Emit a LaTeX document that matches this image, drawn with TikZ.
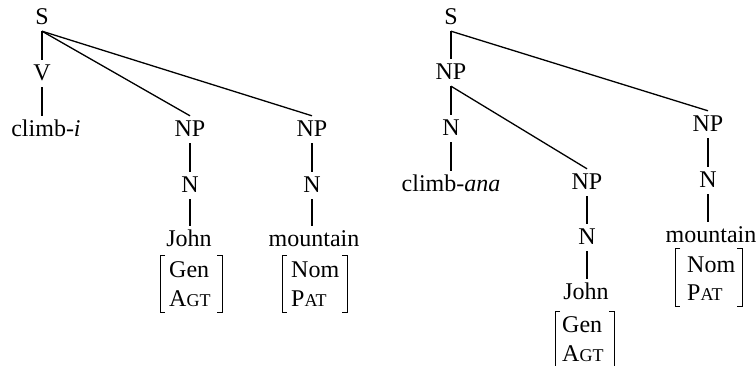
\documentclass[tikz,border=0pt]{standalone}
\usepackage{fontspec}
\setmainfont{Liberation Serif}
\newcommand\mysc[1]{{\fontsize{18}{18}\selectfont #1}}
\tikzset{
  lab/.style={font=\fontsize{24}{28}\selectfont, inner xsep=0pt, inner ysep=6pt, text height=15pt, text depth=0pt, anchor=base},
  feat/.style={font=\fontsize{24}{28}\selectfont, inner sep=0pt, anchor=base west},
  edge/.style={line width=1.3pt},
  brk/.style={line width=1pt}
}
\begin{document}
\begin{tikzpicture}[x=1pt,y=-1pt]
\useasboundingbox (0,0) rectangle (756,366);
% ---------- left tree ----------
\node[lab] (S1) at (42,25) {S};
\node[lab] (V1) at (42,81) {V};
\node[lab] (cl1) at (46,137) {climb-\textit{i}};
\node[lab] (NPa) at (190,137) {NP};
\node[lab] (Na) at (190,193) {N};
\node[lab] (Ja) at (189,247) {John};
\node[feat] (Ga) at (169,278) {Gen};
\node[feat] (Aa) at (169,307) {A\mysc{GT}};
\node[lab] (NPb) at (312,137) {NP};
\node[lab] (Nb) at (312,193) {N};
\node[lab] (Mb) at (314,247) {mountain};
\node[feat] (Ob) at (291,278) {Nom};
\node[feat] (Pb) at (291,307) {P\mysc{AT}};
\draw[edge] (S1.south) -- (V1.north);
\draw[edge] (V1.south) -- (V1.south |- cl1.north);
\draw[edge] (S1.south) -- (NPa.north);
\draw[edge] (S1.south) -- (NPb.north);
\draw[edge] (NPa.south) -- (Na.north);
\draw[edge] (Na.south) -- (Na.south |- Ja.north);
\draw[edge] (NPb.south) -- (Nb.north);
\draw[edge] (Nb.south) -- (Nb.south |- Mb.north);
\draw[brk] (165,256) -- (160,256) -- (160,313) -- (165,313);
\draw[brk] (217,256) -- (222,256) -- (222,313) -- (217,313);
\draw[brk] (287,256) -- (282,256) -- (282,313) -- (287,313);
\draw[brk] (342,256) -- (347,256) -- (347,313) -- (342,313);
% ---------- right tree ----------
\node[lab] (S2) at (451,25) {S};
\node[lab] (NPc) at (451,80) {NP};
\node[lab] (Nc) at (451,136) {N};
\node[lab] (cl2) at (451,192) {climb-\textit{ana}};
\node[lab] (NPd) at (587,190) {NP};
\node[lab] (Nd) at (587,245) {N};
\node[lab] (Jd) at (586,300) {John};
\node[feat] (Gd) at (562,333) {Gen};
\node[feat] (Ad) at (562,362) {A\mysc{GT}};
\node[lab] (NPe) at (708,132) {NP};
\node[lab] (Ne) at (708,188) {N};
\node[lab] (Me) at (711,243) {mountain};
\node[feat] (Oe) at (687,273) {Nom};
\node[feat] (Pe) at (687,301) {P\mysc{AT}};
\draw[edge] (S2.south) -- (NPc.north);
\draw[edge] (S2.south) -- (NPe.north);
\draw[edge] (NPc.south) -- (Nc.north);
\draw[edge] (Nc.south) -- (Nc.south |- cl2.north);
\draw[edge] (NPc.south) -- (NPd.north);
\draw[edge] (NPd.south) -- (Nd.north);
\draw[edge] (Nd.south) -- (Nd.south |- Jd.north);
\draw[edge] (NPe.south) -- (Ne.north);
\draw[edge] (Ne.south) -- (Ne.south |- Me.north);
\draw[brk] (560,312) -- (555,312) -- (555,369) -- (560,369);
\draw[brk] (609,312) -- (614,312) -- (614,369) -- (609,369);
\draw[brk] (680,249) -- (675,249) -- (675,307) -- (680,307);
\draw[brk] (737,249) -- (742,249) -- (742,307) -- (737,307);
\end{tikzpicture}
\end{document}
